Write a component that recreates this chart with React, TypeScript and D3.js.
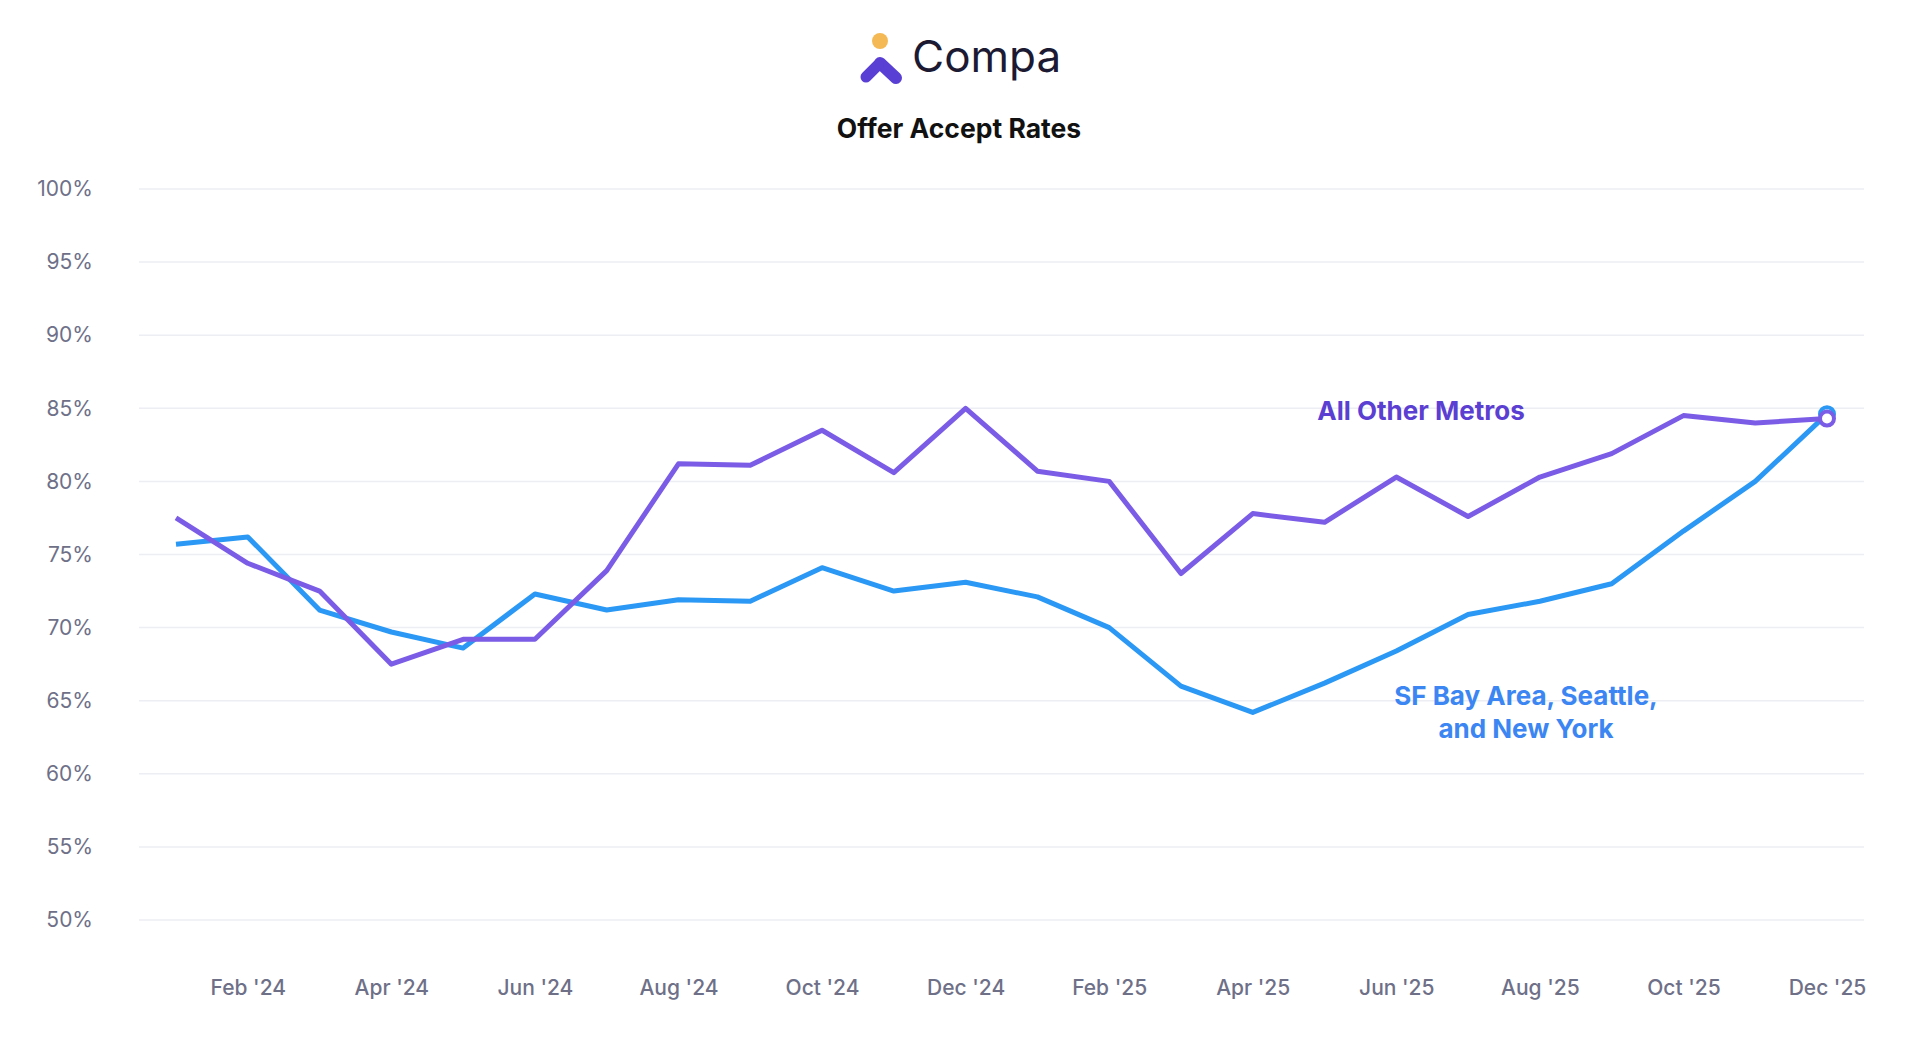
import React, { useEffect, useRef } from 'react';
import * as d3 from 'd3';

const months = ["Jan '24", "Feb '24", "Mar '24", "Apr '24", "May '24", "Jun '24", "Jul '24", "Aug '24", "Sep '24", "Oct '24", "Nov '24", "Dec '24",
  "Jan '25", "Feb '25", "Mar '25", "Apr '25", "May '25", "Jun '25", "Jul '25", "Aug '25", "Sep '25", "Oct '25", "Nov '25", "Dec '25"];
const tickMonths = ["Feb '24", "Apr '24", "Jun '24", "Aug '24", "Oct '24", "Dec '24", "Feb '25", "Apr '25", "Jun '25", "Aug '25", "Oct '25", "Dec '25"];
const techHubs = [75.7, 76.2, 71.2, 69.7, 68.6, 72.3, 71.2, 71.9, 71.8, 74.1, 72.5, 73.1, 72.1, 70.0, 66.0, 64.2, 66.2, 68.4, 70.9, 71.8, 73.0, 76.6, 80.0, 84.6];
const otherMetros = [77.5, 74.4, 72.5, 67.5, 69.2, 69.2, 73.9, 81.2, 81.1, 83.5, 80.6, 85.0, 80.7, 80.0, 73.7, 77.8, 77.2, 80.3, 77.6, 80.3, 81.9, 84.5, 84.0, 84.3];
const yTicks = [50, 55, 60, 65, 70, 75, 80, 85, 90, 95, 100];

const BLUE = '#2a98f4';
const PURPLE = '#7a5ce6';
const FONT = 'Inter, "Noto Sans", sans-serif';

export default function App() {
  const ref = useRef<SVGSVGElement>(null);

  useEffect(() => {
    if (!ref.current) return;
    const svg = d3.select(ref.current);
    svg.selectAll('*').remove();

    const x = d3.scalePoint().domain(months).range([176, 1827]);
    const y = d3.scaleLinear().domain([50, 100]).range([920, 189]);

    // logo
    const logo = svg.append('g').attr('transform', 'translate(860,33)');
    logo.append('circle').attr('cx', 20).attr('cy', 8).attr('r', 8).attr('fill', '#f4b955');
    logo.append('line').attr('x1', 20).attr('y1', 30).attr('x2', 36).attr('y2', 45)
      .attr('stroke', '#5a3fd4').attr('stroke-width', 12).attr('stroke-linecap', 'round');
    logo.append('line').attr('x1', 18).attr('y1', 32).attr('x2', 6).attr('y2', 44)
      .attr('stroke', '#5a3fd4').attr('stroke-width', 11).attr('stroke-linecap', 'round');
    svg.append('text').attr('x', 912).attr('y', 72).attr('font-size', 44).attr('font-family', FONT)
      .attr('fill', '#1c1a33').text('Compa');

    svg.append('text').attr('x', 959).attr('y', 138).attr('text-anchor', 'middle').attr('font-size', 26.5)
      .attr('font-weight', 700).attr('font-family', FONT).attr('fill', '#111').text('Offer Accept Rates');

    // grid
    svg.append('g').selectAll('line').data(yTicks).join('line')
      .attr('x1', 139).attr('x2', 1864).attr('y1', d => y(d)).attr('y2', d => y(d))
      .attr('stroke', '#eceef3').attr('stroke-width', 1.5);

    const yAxis = svg.append('g').attr('transform', 'translate(96,0)')
      .call(d3.axisLeft(y).tickValues(yTicks).tickFormat(d => `${d}%`).tickSize(0));
    yAxis.select('.domain').remove();
    yAxis.selectAll('text').attr('font-size', 21).attr('font-family', FONT).attr('fill', '#6e7088');

    const xAxis = svg.append('g').attr('transform', 'translate(0,977)')
      .call(d3.axisBottom(x).tickValues(tickMonths).tickSize(0));
    xAxis.select('.domain').remove();
    xAxis.selectAll('text').attr('font-size', 21).attr('font-weight', 500).attr('font-family', FONT).attr('fill', '#6e7088');

    const line = d3.line<number>().x((_, i) => x(months[i])!).y(d => y(d));
    svg.append('path').datum(techHubs).attr('d', line).attr('fill', 'none')
      .attr('stroke', BLUE).attr('stroke-width', 5).attr('stroke-linejoin', 'round');
    svg.append('path').datum(otherMetros).attr('d', line).attr('fill', 'none')
      .attr('stroke', PURPLE).attr('stroke-width', 5).attr('stroke-linejoin', 'round');

    const last = months.length - 1;
    svg.append('circle').attr('cx', x(months[last])!).attr('cy', y(techHubs[last])).attr('r', 7)
      .attr('fill', '#fff').attr('stroke', BLUE).attr('stroke-width', 4);
    svg.append('circle').attr('cx', x(months[last])!).attr('cy', y(otherMetros[last])).attr('r', 7)
      .attr('fill', '#fff').attr('stroke', PURPLE).attr('stroke-width', 4);

    svg.append('text').attr('x', 1421).attr('y', 420).attr('text-anchor', 'middle').attr('font-size', 26)
      .attr('font-weight', 700).attr('font-family', FONT).attr('fill', '#5b3fd2').text('All Other Metros');
    const sf = svg.append('text').attr('text-anchor', 'middle').attr('font-size', 26)
      .attr('font-weight', 700).attr('font-family', FONT).attr('fill', '#3b86f2');
    sf.append('tspan').attr('x', 1526).attr('y', 705).text('SF Bay Area, Seattle,');
    sf.append('tspan').attr('x', 1526).attr('y', 738).text('and New York');
  }, []);

  return (
    <svg ref={ref} width={1926} height={1040}
      style={{ position: 'absolute', left: 0, top: 0, background: '#fff' }} />
  );
}
